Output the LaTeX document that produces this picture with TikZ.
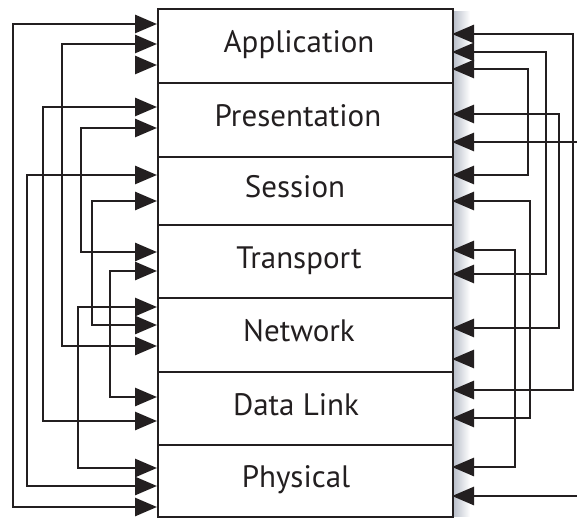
\documentclass[tikz,border=0pt]{standalone}
\usepackage{fontspec}
\setmainfont{PT Sans}
\usetikzlibrary{arrows.meta}
\definecolor{ink}{RGB}{35,31,32}
\definecolor{shadowgray}{RGB}{180,186,198}
\tikzset{
  layer/.style={draw=ink, line width=2.2pt, minimum width=295pt, inner sep=0pt, anchor=north west},
  lbl/.style={text=ink, anchor=base, inner sep=0pt, font=\fontsize{31}{36}\selectfont},
  bigtip/.tip={Triangle[length=22pt,width=18pt]},
  link/.style={draw=ink, line width=2.8pt, bigtip-bigtip},
  feed/.style={draw=ink, line width=2.8pt, -bigtip},
}
\begin{document}
\begin{tikzpicture}[x=1pt, y=-1pt]
\useasboundingbox (0,0) rectangle (577,518);

% soft shadow along the right side of the stack
\shade[left color=shadowgray, right color=white] (452,12) rectangle (470,516);

% the seven layers
\node[layer, minimum height=74pt] (app) at (157,8) {};
\node[layer, minimum height=74pt] (pre) at (157,82) {};
\node[layer, minimum height=68pt] (ses) at (157,156) {};
\node[layer, minimum height=73pt] (tra) at (157,224) {};
\node[layer, minimum height=74pt] (net) at (157,297) {};
\node[layer, minimum height=73pt] (dat) at (157,371) {};
\node[layer, minimum height=72pt] (phy) at (157,444) {};

\node[lbl] (tapp) at (299,52.5) {Application};
\node[lbl] (tpre) at (298,126.5) {Presentation};
\node[lbl] (tses) at (295,197.5) {Session};
\node[lbl] (ttra) at (299,268) {Transport};
\node[lbl] (tnet) at (299,341.5) {Network};
\node[lbl] (tdat) at (296,415) {Data Link};
\node[lbl] (tphy) at (296,487.5) {Physical};

% arrow tips on the left side of the stack
\foreach \y in {24,44,65,107,128,175,201,252,271,307,325,346,397,421,468,486,507}
  \coordinate (w\y) at (157,\y);
% arrow tips on the right side of the stack
\foreach \y in {34,52,69,114,142,175,201,250,274,328,359,390,418,467,496}
  \coordinate (e\y) at (452,\y);
% loose ends entering from the right margin
\coordinate (in142) at (577,142);
\coordinate (in496) at (577,496);

% left-hand connections
\draw[link] (w24)  -- ++(-144,0) |- (w507);
\draw[link] (w44)  -- ++(-95,0)  |- (w346);
\draw[link] (w107) -- ++(-114,0) |- (w421);
\draw[link] (w128) -- ++(-76,0)  |- (w252);
\draw[link] (w175) -- ++(-130,0) |- (w486);
\draw[link] (w201) -- ++(-65,0)  |- (w325);
\draw[link] (w271) -- ++(-47,0)  |- (w397);
\draw[link] (w307) -- ++(-79,0)  |- (w468);
\draw[feed] ([xshift=-22pt]w65) -- (w65);

% right-hand connections
\draw[link] (e34)  -- ++(121,0) |- (e390);
\draw[link] (e52)  -- ++(94,0)  |- (e274);
\draw[link] (e69)  -- ++(76,0)  |- (e175);
\draw[link] (e114) -- ++(107,0) |- (e328);
\draw[link] (e201) -- ++(78,0)  |- (e418);
\draw[link] (e250) -- ++(63,0)  |- (e467);
\draw[feed] (in142) -- (e142);
\draw[feed] (in496) -- (e496);
\draw[feed] ([xshift=22pt]e359) -- (e359);
\end{tikzpicture}
\end{document}
